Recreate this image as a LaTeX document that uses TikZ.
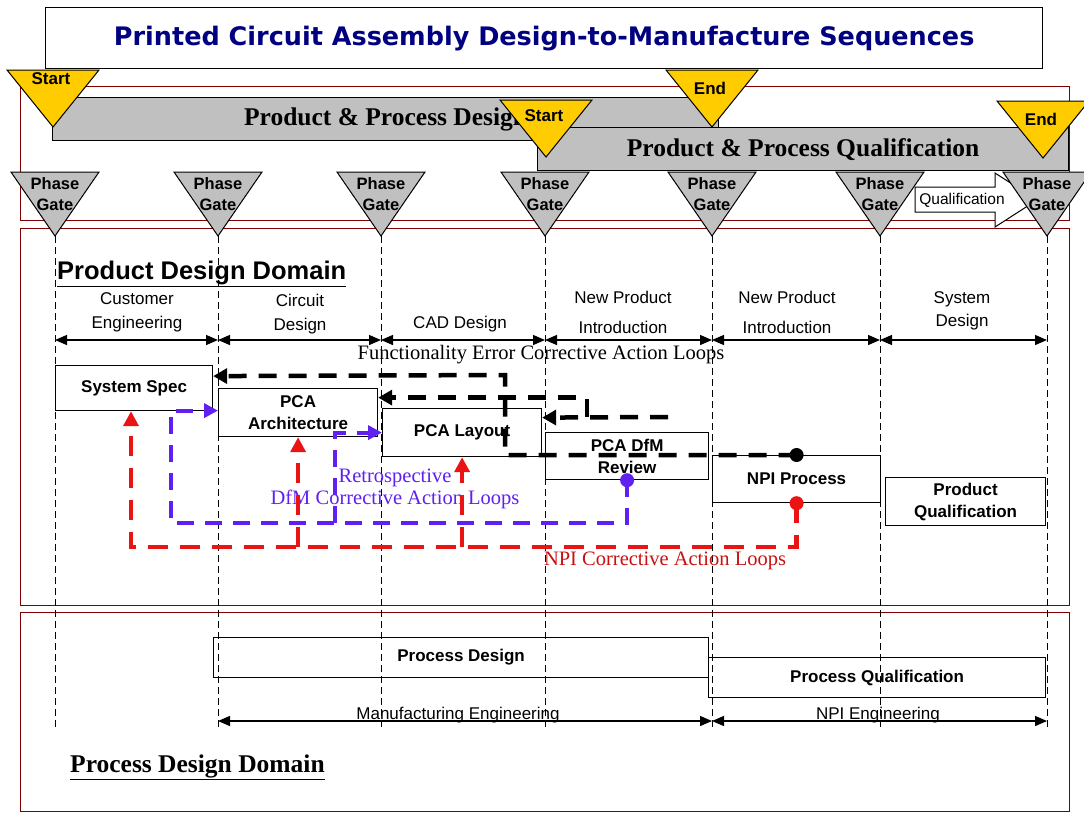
\documentclass[tikz,border=0pt]{standalone}
\usepackage{fontspec}
\setmainfont{Liberation Serif}
\setsansfont{Liberation Sans}
\newfontfamily\heavyfont{DejaVu Sans}
\usepackage{tikz}
\usetikzlibrary{positioning,arrows.meta}
\usepackage{xcolor}
\definecolor{gatebg}{RGB}{192,192,192}
\definecolor{markbg}{RGB}{255,204,0}
\definecolor{framered}{RGB}{128,0,0}
\definecolor{titleblue}{RGB}{0,0,128}
\definecolor{dfmviolet}{RGB}{96,32,240}
\definecolor{npired}{RGB}{235,20,20}

\begin{document}
\begin{tikzpicture}[x=1pt, y=-1pt,
  box/.style={draw, line width=1.2pt, align=center, inner sep=0pt, anchor=north west, font=\sffamily\bfseries\fontsize{17}{22}\selectfont},
  bar/.style={draw, line width=1.2pt, fill=gatebg, inner sep=0pt, anchor=north west, font=\bfseries\fontsize{25.5}{28}\selectfont},
  frame/.style={draw=framered, line width=1pt},
  col/.style={align=center, inner sep=0pt, font=\sffamily\fontsize{17}{24}\selectfont},
  span/.style={line width=1.3pt, {Triangle[length=12pt,width=10pt]}-{Triangle[length=12pt,width=10pt]}},
  gateline/.style={line width=0.9pt, dash pattern=on 7pt off 4pt},
  gatetxt/.style={align=center, inner sep=0pt, font=\sffamily\bfseries\fontsize{16.5}{21}\selectfont},
  marktxt/.style={inner sep=0pt, font=\sffamily\bfseries\fontsize{17}{20}\selectfont},
  looptxt/.style={align=center, inner sep=0pt, font=\fontsize{20.5}{22}\selectfont},
  fbloop/.style={line width=4.5pt, dash pattern=on 18pt off 12pt, -{Triangle[length=14pt,width=15pt]}},
  dfmloop/.style={draw=dfmviolet, line width=4pt, dash pattern=on 17pt off 11pt, -{Triangle[length=14pt,width=14pt]}},
  npiloop/.style={draw=npired, line width=4.5pt, dash pattern=on 20pt off 12pt, -{Triangle[length=15pt,width=15pt]}},
  dot/.style={circle, inner sep=0pt, minimum size=14pt}]
  \useasboundingbox (0,0) rectangle (1084,812);
  \fill[white] (0,0) rectangle (1084,812);
  % frames
  \draw[frame] (20,86) rectangle (1069,220);
  \draw[frame] (20,228) rectangle (1069,605);
  \draw[frame] (20,612) rectangle (1069,811);
  % phase gate lines
  \foreach \x [count=\i] in {55,218,381,545,712,880,1047} {
    \coordinate (apex\i) at (\x,236);
    \draw[gateline] (apex\i) -- (\x,728);
  }
  % title
  \node[draw, line width=1.4pt, minimum width=997, minimum height=61, anchor=north west, text=titleblue,
        font=\heavyfont\bfseries\fontsize{25.5}{28}\selectfont] (title) at (45,7) {Printed Circuit Assembly Design-to-Manufacture Sequences};
  % stage bars
  \node[bar, minimum width=666, minimum height=43] (designbar) at (52,97) {Product \& Process Design};
  \node[bar, minimum width=531, minimum height=43] (qualbar) at (537,127) {Product \& Process Qualification};
  \draw[line width=1pt, fill=white] (915,187) -- (995,187) -- (995,173) -- (1037,200) -- (995,227) -- (995,212) -- (915,212) -- cycle;
  \node[inner sep=0pt, font=\sffamily\fontsize{15.5}{18}\selectfont] (qarrow) at (962,200) {Qualification};
  % start / end marks
  \foreach \x/\y/\ty/\t [count=\i] in {53/70/79/Start, 712/70/88/End, 546/100/116/Start, 1043/101/119/End} {
    \draw[line width=1pt, fill=markbg] (\x-46,\y) -- (\x+46,\y) -- (\x,\y+57) -- cycle;
    \node[marktxt] (mark\i) at (\x-2,\ty) {\t};
  }
  % phase gates
  \foreach \i in {1,...,7} {
    \draw[line width=1pt, fill=gatebg] ([xshift=-44pt]apex\i |- 0,172) -- ([xshift=44pt]apex\i |- 0,172) -- (apex\i) -- cycle;
    \node[gatetxt] (gate\i) at (apex\i |- 0,194) {Phase\\Gate};
  }
  % product design domain
  \node[anchor=base west, inner sep=0pt, font=\sffamily\bfseries\fontsize{25.5}{28}\selectfont] (pdd) at (57,279) {\underline{Product Design Domain}};
  \node[col] (custeng) at (137,312) {Customer\\Engineering};
  \node[col] (circdes) at (300,314) {Circuit\\Design};
  \node[col] (caddes) at (460,324) {CAD Design};
  \node[col, font=\sffamily\fontsize{17}{30}\selectfont] (npintro1) at (623,312) {New Product\\Introduction};
  \node[col, font=\sffamily\fontsize{17}{30}\selectfont] (npintro2) at (787,312) {New Product\\Introduction};
  \node[col, font=\sffamily\fontsize{17}{23}\selectfont] (sysdes) at (962,311) {System\\Design};
  \coordinate (spanrow) at (0,340);
  \foreach \i [evaluate=\i as \j using int(\i+1)] in {1,...,6}
    \draw[span] (apex\i |- spanrow) -- (apex\j |- spanrow);
  \node[looptxt] (fetxt) at (541,355) {Functionality Error Corrective Action Loops};
  \node[box, minimum width=157, minimum height=45] (spec) at (55,365) {System Spec};
  \node[box, minimum width=159, minimum height=48] (arch) at (218,388) {PCA\\Architecture};
  \node[box, minimum width=159, minimum height=48] (layout) at (382,408) {PCA Layout};
  \node[box, minimum width=163, minimum height=47] (dfm) at (545,432) {PCA DfM\\Review};
  \node[box, minimum width=168, minimum height=47] (npi) at (712,455) {NPI Process};
  \node[box, minimum width=160, minimum height=48] (pqual) at (885,477) {Product\\Qualification};
  % functionality loops
  \coordinate (fbsplit) at (587,417);
  \coordinate (fbend) at (668,417);
  \draw[fbloop] (npi.north) -| (505,375) -- ([yshift=12pt]spec.east);
  \draw[fbloop] (fbsplit) |- ([yshift=15pt]arch.east);
  \draw[fbloop] (fbend) -- ([yshift=15pt]layout.east);
  \node[dot, fill=black] (npitop) at (npi.north) {};
  % dfm loops
  \coordinate (dfmleft) at (171,523);
  \coordinate (dfmsplit) at (335,523);
  \draw[dfmloop] (dfm.south) |- (dfmleft) |- ([yshift=2pt]arch.west);
  \draw[dfmloop] (dfmsplit) |- (layout.west);
  \node[dot, fill=dfmviolet] (dfmdot) at (dfm.south) {};
  \node[looptxt, text=dfmviolet] (dfmtxt) at (395,489) {Retrospective\\DfM Corrective Action Loops};
  % npi loops
  \coordinate (npibase) at (131,547);
  \draw[npiloop] (npi.south) |- (npibase) -- (npibase |- spec.south);
  \draw[npiloop] (arch.south |- npibase) -- (arch.south);
  \draw[npiloop] (layout.south |- npibase) -- (layout.south);
  \node[dot, fill=npired] (npidot) at (npi.south) {};
  \node[looptxt, text=npired!85!black] (npitxt) at (665,561) {NPI Corrective Action Loops};
  % process design domain
  \node[box, minimum width=495, minimum height=40] (pdes) at (213,637) {Process Design};
  \node[box, minimum width=337, minimum height=40] (pqualb) at (708,657) {Process Qualification};
  \coordinate (engrow) at (0,721);
  \draw[span] (apex2 |- engrow) -- (apex5 |- engrow);
  \draw[span] (apex5 |- engrow) -- (apex7 |- engrow);
  \node[col, anchor=base] (mfgeng) at (458,719) {Manufacturing Engineering};
  \node[col, anchor=base] (npieng) at (878,719) {NPI Engineering};
  \node[anchor=base west, inner sep=0pt, font=\bfseries\fontsize{25.5}{28}\selectfont] (prdd) at (70,772) {\underline{Process Design Domain}};
\end{tikzpicture}
\end{document}
